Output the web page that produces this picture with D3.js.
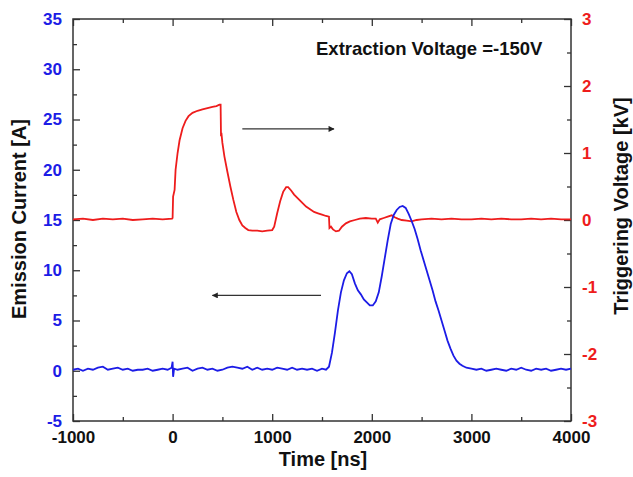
<!DOCTYPE html>
<html>
<head>
<meta charset="utf-8">
<style>
body { margin: 0; background: #fff; }
svg text { font-family: "Liberation Sans", Arial, sans-serif; font-weight: bold; }
</style>
</head>
<body>
<script src="https://d3js.org/d3.v7.min.js"></script>
<script>
// emission current (left axis, A) vs time (ns)
const currentTime = [-1000,-950,-900,-850,-800,-750,-700,-650,-600,-550,-500,-450,-400,-350,-300,-250,-200,-150,-100,-50,-10,0,5,15,50,100,150,200,250,300,350,400,450,500,550,600,650,700,750,800,850,900,950,1000,1050,1100,1150,1200,1250,1300,1350,1400,1450,1500,1540,1570,1600,1630,1660,1690,1720,1750,1775,1800,1830,1860,1890,1920,1950,1980,2010,2040,2070,2100,2130,2160,2190,2220,2250,2280,2310,2340,2370,2400,2430,2460,2490,2520,2550,2580,2610,2640,2670,2700,2730,2760,2790,2820,2850,2880,2910,2950,3000,3050,3100,3150,3200,3250,3300,3350,3400,3450,3500,3550,3600,3650,3700,3750,3800,3850,3900,3950,4000];
const currentVal = [0.1,0.2,0.0,0.2,0.1,0.3,0.4,0.1,0.2,0.3,0.1,0.2,0.0,0.1,0.1,0.2,0.0,0.1,0.2,0.1,0.3,0.9,-0.6,0.2,0.1,0.2,0.3,0.0,0.2,0.3,0.1,0.2,0.0,0.1,0.3,0.4,0.3,0.2,0.4,0.1,0.3,0.1,0.2,0.1,0.3,0.2,0.1,0.3,0.1,0.2,0.1,0.2,0.0,0.2,0.1,0.4,1.8,3.8,6.0,7.8,9.0,9.7,9.9,9.6,8.7,8.0,7.6,7.1,6.8,6.5,6.5,6.9,7.8,9.4,11.2,13.0,14.6,15.5,16.0,16.3,16.4,16.2,15.6,14.9,14.1,13.1,12.0,11.0,10.0,9.0,8.0,6.9,6.0,5.0,4.0,3.0,2.2,1.5,1.0,0.7,0.5,0.3,0.2,0.1,0.2,0.0,0.1,0.2,0.1,0.0,0.2,0.1,0.3,0.1,0.0,0.2,0.1,0.2,0.0,0.1,0.2,0.1,0.2,0.1];

// triggering voltage (right axis, kV) vs time (ns)
const trigTime = [-1000,-900,-800,-700,-600,-500,-400,-300,-200,-100,-5,0,5,20,30,50,70,100,130,160,200,250,300,350,400,440,470,482,486,490,500,520,550,580,610,640,670,700,730,760,800,850,900,950,1000,1020,1050,1080,1110,1140,1160,1190,1220,1260,1300,1340,1380,1420,1460,1500,1540,1570,1575,1590,1610,1640,1670,1700,1740,1780,1830,1880,1940,2000,2040,2060,2080,2120,2160,2200,2230,2260,2300,2350,2400,2450,2500,2600,2700,2800,2900,3000,3100,3200,3300,3400,3500,3600,3700,3800,3900,4000];
const trigVal = [0.01,0.02,0.0,0.02,0.01,0.02,0.0,0.01,0.02,0.01,0.02,0.03,0.35,0.45,0.75,1.0,1.19,1.37,1.48,1.55,1.6,1.63,1.65,1.67,1.69,1.7,1.72,1.72,1.25,1.3,1.15,0.95,0.72,0.5,0.3,0.12,0.0,-0.08,-0.12,-0.15,-0.16,-0.16,-0.17,-0.16,-0.15,-0.1,0.1,0.28,0.42,0.49,0.49,0.44,0.38,0.32,0.26,0.2,0.16,0.12,0.1,0.08,0.06,0.05,-0.12,-0.1,-0.14,-0.17,-0.16,-0.1,-0.05,-0.02,0.0,0.02,0.03,0.02,0.02,-0.04,0.01,0.03,0.05,0.07,0.04,0.02,0.0,-0.01,-0.02,0.0,0.01,0.02,0.01,0.02,0.01,0.01,0.02,0.01,0.02,0.01,0.01,0.02,0.01,0.02,0.01,0.01];

const xTicks = [-1000, 0, 1000, 2000, 3000, 4000];
const xMinor = [-500, 500, 1500, 2500, 3500];
const leftTicks = [-5, 0, 5, 10, 15, 20, 25, 30, 35];
const leftMinor = [-2.5, 2.5, 7.5, 12.5, 17.5, 22.5, 27.5, 32.5];
const rightTicks = [-3, -2, -1, 0, 1, 2, 3];
const rightMinor = [-2.5, -1.5, -0.5, 0.5, 1.5, 2.5];

const W = 633, H = 477;
const m = {left: 73, right: 62, top: 19, bottom: 56};
const blue = "#1c1ce6", red = "#ee1c1c";
const plain = d => String(d);

const svg = d3.select("body").append("svg")
  .attr("width", W).attr("height", H);

const x = d3.scaleLinear().domain([-1000, 4000]).range([m.left, W - m.right]);
const yL = d3.scaleLinear().domain([-5, 35]).range([H - m.bottom, m.top]);
const yR = d3.scaleLinear().domain([-3, 3]).range([H - m.bottom, m.top]);

function styleAxis(g, color, size) {
  g.select(".domain").remove();
  g.selectAll("line").attr("stroke", "#333").attr("stroke-width", 1.3);
  g.selectAll("text").attr("fill", color).style("font-size", size + "px");
}

// left axis
svg.append("g").attr("transform", `translate(${m.left},0)`)
  .call(d3.axisLeft(yL).tickValues(leftTicks).tickFormat(plain).tickSize(-7).tickPadding(11))
  .call(g => styleAxis(g, blue, 17));
svg.append("g").attr("transform", `translate(${m.left},0)`)
  .call(d3.axisLeft(yL).tickValues(leftMinor).tickSize(-4).tickFormat(""))
  .call(g => styleAxis(g, blue, 17));

// right axis
svg.append("g").attr("transform", `translate(${W - m.right},0)`)
  .call(d3.axisRight(yR).tickValues(rightTicks).tickFormat(plain).tickSize(-7).tickPadding(11))
  .call(g => styleAxis(g, red, 17));
svg.append("g").attr("transform", `translate(${W - m.right},0)`)
  .call(d3.axisRight(yR).tickValues(rightMinor).tickSize(-4).tickFormat(""))
  .call(g => styleAxis(g, red, 17));

// bottom + top
svg.append("g").attr("transform", `translate(0,${H - m.bottom})`)
  .call(d3.axisBottom(x).tickValues(xTicks).tickFormat(plain).tickSize(-7).tickPadding(10))
  .call(g => styleAxis(g, "#111", 17));
svg.append("g").attr("transform", `translate(0,${H - m.bottom})`)
  .call(d3.axisBottom(x).tickValues(xMinor).tickSize(-4).tickFormat(""))
  .call(g => styleAxis(g, "#111", 17));
svg.append("g").attr("transform", `translate(0,${m.top})`)
  .call(d3.axisTop(x).tickValues(xTicks).tickSize(-7).tickFormat(""))
  .call(g => styleAxis(g, "#111", 17));
svg.append("g").attr("transform", `translate(0,${m.top})`)
  .call(d3.axisTop(x).tickValues(xMinor).tickSize(-4).tickFormat(""))
  .call(g => styleAxis(g, "#111", 17));

// frame
svg.append("rect")
  .attr("x", m.left).attr("y", m.top)
  .attr("width", W - m.left - m.right).attr("height", H - m.top - m.bottom)
  .attr("fill", "none").attr("stroke", "#333").attr("stroke-width", 1.5);

// traces
const lineL = d3.line().x(d => x(d[0])).y(d => yL(d[1]));
const lineR = d3.line().x(d => x(d[0])).y(d => yR(d[1]));

svg.append("path")
  .datum(trigTime.map((t, i) => [t, trigVal[i]]))
  .attr("d", lineR).attr("fill", "none")
  .attr("stroke", red).attr("stroke-width", 1.8);

svg.append("path")
  .datum(currentTime.map((t, i) => [t, currentVal[i]]))
  .attr("d", lineL).attr("fill", "none")
  .attr("stroke", blue).attr("stroke-width", 1.8);

// arrows
svg.append("defs").append("marker")
  .attr("id", "head").attr("viewBox", "0 0 10 10")
  .attr("refX", 9).attr("refY", 5)
  .attr("markerWidth", 8).attr("markerHeight", 6)
  .attr("markerUnits", "userSpaceOnUse")
  .attr("orient", "auto")
  .append("path").attr("d", "M0,0L10,5L0,10z").attr("fill", "#222");

svg.append("line")
  .attr("x1", x(700)).attr("x2", x(1620))
  .attr("y1", yR(1.36)).attr("y2", yR(1.36))
  .attr("stroke", "#333").attr("stroke-width", 1.3)
  .attr("marker-end", "url(#head)");
svg.append("line")
  .attr("x1", x(1490)).attr("x2", x(400))
  .attr("y1", yL(7.5)).attr("y2", yL(7.5))
  .attr("stroke", "#333").attr("stroke-width", 1.3)
  .attr("marker-end", "url(#head)");

// texts
svg.append("text")
  .attr("x", x(1440)).attr("y", 55)
  .style("font-size", "18.5px").attr("fill", "#111")
  .text("Extraction Voltage =-150V");

svg.append("text")
  .attr("transform", `translate(26,219) rotate(-90)`)
  .attr("text-anchor", "middle")
  .style("font-size", "20px").attr("fill", "#111")
  .text("Emission Current [A]");

svg.append("text")
  .attr("transform", `translate(628,206) rotate(-90)`)
  .attr("text-anchor", "middle")
  .style("font-size", "20px").attr("fill", "#111")
  .text("Triggering Voltage [kV]");

svg.append("text")
  .attr("x", 323).attr("y", 466)
  .attr("text-anchor", "middle")
  .style("font-size", "20px").attr("fill", "#111")
  .text("Time [ns]");
</script>
</body>
</html>
